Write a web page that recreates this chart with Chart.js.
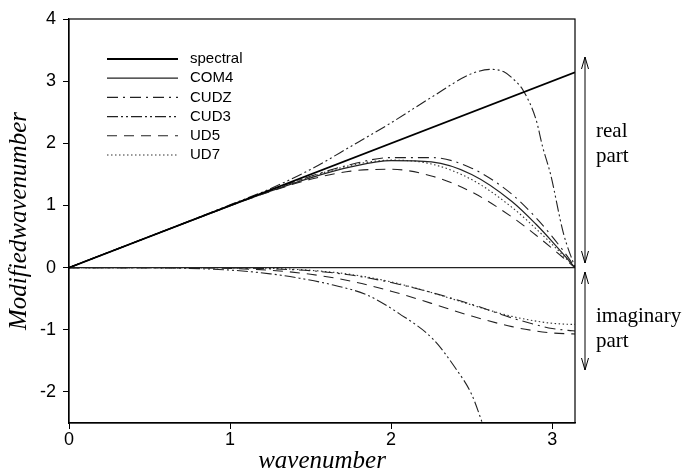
<!DOCTYPE html>
<html>
<head>
<meta charset="utf-8">
<script src="https://cdn.jsdelivr.net/npm/chart.js@4/dist/chart.umd.min.js"></script>
<style>
  body { margin: 0; background: #fff; }
  #wrap { width: 686px; height: 474px; }
</style>
</head>
<body>
<div id="wrap"><canvas id="waveChart" width="686" height="474"></canvas></div>
<script>
// Modified wavenumber of the schemes, real and imaginary parts
const wavenumber = [0, 0.5, 1, 1.25, 1.5, 1.75, 2, 2.25, 2.5, 2.75, 2.9, 3, 3.1, 3.1416];

const spectralK = [0, 3.1416];
const spectralReal = [0, 3.1416];

const com4Real = [0, 0.5, 0.994, 1.23, 1.445, 1.62, 1.722, 1.701, 1.498, 1.064, 0.697, 0.419, 0.125, 0];
const com4Imag = [0, 0, 0, 0, 0, 0, 0, 0, 0, 0, 0, 0, 0, 0];

const cudzReal = [0, 0.5, 0.998, 1.24, 1.47, 1.66, 1.77, 1.77, 1.6, 1.18, 0.8, 0.5, 0.16, 0];
const cudzImag = [0, 0, -0.004, -0.02, -0.05, -0.12, -0.24, -0.4, -0.59, -0.81, -0.92, -0.98, -1.01, -1.02];

const ud5Real = [0, 0.5, 0.994, 1.225, 1.421, 1.553, 1.582, 1.475, 1.217, 0.815, 0.52, 0.309, 0.091, 0];
const ud5Imag = [0, 0, -0.013, -0.043, -0.107, -0.218, -0.379, -0.575, -0.779, -0.95, -1.02, -1.051, -1.065, -1.067];

const ud7Real = [0, 0.5, 0.999, 1.242, 1.463, 1.645, 1.729, 1.667, 1.417, 0.97, 0.625, 0.373, 0.11, 0];
const ud7Imag = [0, 0, -0.003, -0.013, -0.043, -0.11, -0.23, -0.401, -0.601, -0.784, -0.861, -0.896, -0.912, -0.914];

const cud3RealK = [0, 0.5, 1, 1.25, 1.5, 1.75, 2, 2.25, 2.5, 2.62, 2.7, 2.76, 2.82, 2.9, 2.94, 2.99, 3.07, 3.1416];
const cud3Real = [0, 0.5, 1.01, 1.27, 1.58, 1.95, 2.33, 2.74, 3.12, 3.19, 3.15, 3.03, 2.85, 2.38, 1.95, 1.5, 0.55, 0];

const cud3ImagK = [0, 0.5, 1, 1.25, 1.43, 1.64, 1.85, 2.05, 2.26, 2.4, 2.5, 2.58];
const cud3Imag = [0, -0.002, -0.04, -0.1, -0.17, -0.28, -0.44, -0.74, -1.15, -1.62, -2.04, -2.6];

const xTicks = [0, 1, 2, 3];
const yTicks = [-2, -1, 0, 1, 2, 3, 4];

const seriesNames = ["spectral", "COM4", "CUDZ", "CUD3", "UD5", "UD7"];

// line styles per scheme
const styles = {
  spectral: { color: "#000", width: 1.8, dash: [] },
  COM4: { color: "#222", width: 1.2, dash: [] },
  CUDZ: { color: "#222", width: 1.1, dash: [11, 5, 2, 5] },
  CUD3: { color: "#222", width: 1.1, dash: [11, 3, 2, 3, 2, 3] },
  UD5: { color: "#222", width: 1.1, dash: [10, 7] },
  UD7: { color: "#333", width: 1.1, dash: [1.5, 2.5] },
};

function toPoints(xs, ys) {
  return xs.map((x, i) => ({ x: x, y: ys[i] }));
}

function makeSet(name, xs, ys) {
  const s = styles[name];
  return {
    label: name,
    data: toPoints(xs, ys),
    borderColor: s.color,
    borderWidth: s.width,
    borderDash: s.dash,
    pointRadius: 0,
    fill: false,
    cubicInterpolationMode: "monotone",
  };
}

const datasets = [
  makeSet("spectral", spectralK, spectralReal),
  makeSet("COM4", wavenumber, com4Real),
  makeSet("COM4", wavenumber, com4Imag),
  makeSet("CUDZ", wavenumber, cudzReal),
  makeSet("CUDZ", wavenumber, cudzImag),
  makeSet("CUD3", cud3RealK, cud3Real),
  makeSet("CUD3", cud3ImagK, cud3Imag),
  makeSet("UD5", wavenumber, ud5Real),
  makeSet("UD5", wavenumber, ud5Imag),
  makeSet("UD7", wavenumber, ud7Real),
  makeSet("UD7", wavenumber, ud7Imag),
];

// frame, legend and the real/imaginary markers on the right
const decorations = {
  id: "decorations",
  afterDraw(chart) {
    const ctx = chart.ctx;
    const area = chart.chartArea;
    ctx.save();

    ctx.strokeStyle = "#000";
    ctx.lineWidth = 1.2;
    ctx.setLineDash([]);
    ctx.strokeRect(area.left, area.top, area.right - area.left, area.bottom - area.top);

    // legend
    ctx.font = "15px 'Liberation Sans'";
    ctx.textBaseline = "middle";
    ctx.fillStyle = "#000";
    seriesNames.forEach((name, i) => {
      const s = styles[name];
      const y = 59 + i * 19.2;
      ctx.beginPath();
      ctx.strokeStyle = s.color;
      ctx.lineWidth = s.width;
      ctx.setLineDash(s.dash);
      ctx.moveTo(107, y);
      ctx.lineTo(178, y);
      ctx.stroke();
      ctx.fillText(name, 190, y);
    });
    ctx.setLineDash([]);

    // double arrows
    function arrow(x, y1, y2) {
      ctx.beginPath();
      ctx.strokeStyle = "#000";
      ctx.lineWidth = 1;
      ctx.moveTo(x, y1);
      ctx.lineTo(x, y2);
      ctx.moveTo(x - 3.5, y1 + 12);
      ctx.lineTo(x, y1);
      ctx.lineTo(x + 3.5, y1 + 12);
      ctx.moveTo(x - 3.5, y2 - 12);
      ctx.lineTo(x, y2);
      ctx.lineTo(x + 3.5, y2 - 12);
      ctx.stroke();
    }
    arrow(585, 57, 263);
    arrow(585, 272, 370);

    ctx.font = "21px 'Liberation Serif'";
    ctx.textBaseline = "alphabetic";
    ctx.fillText("real", 596, 137);
    ctx.fillText("part", 596, 162);
    ctx.fillText("imaginary", 596, 322);
    ctx.fillText("part", 596, 347);

    ctx.restore();
  },
};

const axisGrid = {
  drawOnChartArea: false,
  drawTicks: true,
  tickLength: 6,
  color: "#000",
  lineWidth: 1,
};

new Chart(document.getElementById("waveChart"), {
  type: "line",
  data: { datasets: datasets },
  options: {
    responsive: false,
    animation: false,
    layout: { padding: { top: 19, right: 111, left: 0, bottom: 0 } },
    plugins: {
      legend: { display: false },
      tooltip: { enabled: false },
    },
    scales: {
      x: {
        type: "linear",
        min: 0,
        max: 3.1416,
        afterBuildTicks: (scale) => {
          scale.ticks = xTicks.map((v) => ({ value: v }));
        },
        afterFit: (scale) => {
          scale.height = 51;
        },
        grid: axisGrid,
        border: { display: true, color: "#000", width: 1.2 },
        ticks: {
          color: "#000",
          font: { family: "Liberation Sans", size: 18 },
          padding: 0,
          maxRotation: 0,
          autoSkip: false,
          callback: (v) => String(v),
        },
        title: {
          display: true,
          text: "wavenumber",
          color: "#000",
          font: { family: "Liberation Serif", style: "italic", size: 25, lineHeight: 1 },
          padding: 0,
        },
      },
      y: {
        type: "linear",
        min: -2.5,
        max: 4,
        afterBuildTicks: (scale) => {
          scale.ticks = yTicks.map((v) => ({ value: v }));
        },
        afterFit: (scale) => {
          scale.width = 69;
        },
        grid: axisGrid,
        border: { display: true, color: "#000", width: 1.2 },
        ticks: {
          color: "#000",
          font: { family: "Liberation Sans", size: 18 },
          padding: 7,
          autoSkip: false,
          callback: (v) => String(v),
        },
        title: {
          display: true,
          text: "Modifiedwavenumber",
          color: "#000",
          font: { family: "Liberation Serif", style: "italic", size: 25, lineHeight: 1 },
          padding: { top: 7, bottom: 0 },
        },
      },
    },
  },
  plugins: [decorations],
});
</script>
</body>
</html>
